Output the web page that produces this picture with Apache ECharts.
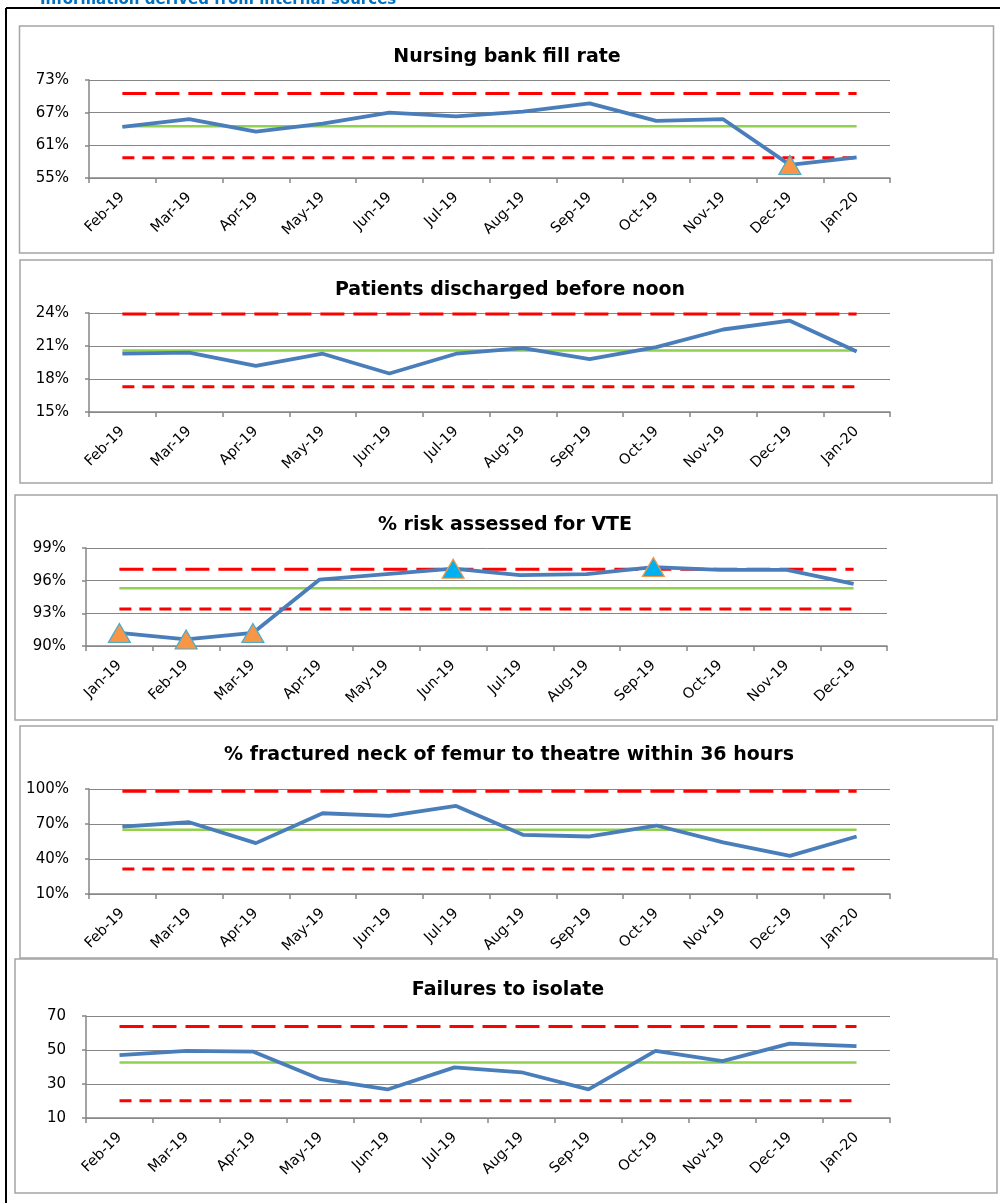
<!DOCTYPE html>
<html>
<head>
<meta charset="utf-8">
<title>Ward quality indicators</title>
<script src="https://cdn.jsdelivr.net/npm/echarts@6/dist/echarts.min.js"></script>
<style>
  html, body { margin: 0; padding: 0; background: #ffffff; }
  #chart { width: 1000px; height: 1203px; }
</style>
</head>
<body>
<div id="chart"></div>
<script>
// ---- categories ----
const monthsFebToJan = ['Feb-19', 'Mar-19', 'Apr-19', 'May-19', 'Jun-19', 'Jul-19',
                        'Aug-19', 'Sep-19', 'Oct-19', 'Nov-19', 'Dec-19', 'Jan-20'];
const monthsJanToDec = ['Jan-19', 'Feb-19', 'Mar-19', 'Apr-19', 'May-19', 'Jun-19',
                        'Jul-19', 'Aug-19', 'Sep-19', 'Oct-19', 'Nov-19', 'Dec-19'];

// ---- monthly values and control limits [upper, mean, lower] ----
const fillRate        = [64.4, 65.8, 63.5, 65.0, 67.0, 66.3, 67.2, 68.7, 65.5, 65.8, 57.4, 58.8];
const fillRateLimits  = [70.5, 64.5, 58.7];

const dischargedNoon   = [20.3, 20.4, 19.2, 20.3, 18.5, 20.3, 20.8, 19.8, 20.9, 22.5, 23.3, 20.5];
const dischargedLimits = [23.9, 20.6, 17.3];

const vteAssessed = [91.2, 90.6, 91.2, 96.1, 96.6, 97.1, 96.5, 96.6, 97.25, 97.0, 97.0, 95.7];
const vteLimits   = [97.05, 95.3, 93.4];

const femurTheatre = [67.8, 71.5, 53.6, 79.2, 76.9, 85.5, 60.7, 59.3, 68.7, 54.2, 42.7, 59.3];
const femurLimits  = [98.0, 65.0, 31.4];

const isolateFailures = [47.0, 49.5, 49.0, 32.8, 26.8, 39.8, 36.9, 26.8, 49.5, 43.5, 53.8, 52.3];
const isolateLimits   = [63.8, 42.7, 20.1];

// ---- value axis ticks [min, max, interval] ----
const fillRateTicks   = [55, 73, 6];
const dischargedTicks = [15, 24, 3];
const vteTicks        = [90, 99, 3];
const femurTicks      = [10, 100, 30];
const isolateTicks    = [10, 70, 20];

// ---- titles ----
const titles = [
  'Nursing bank fill rate',
  'Patients discharged before noon',
  '% risk assessed for VTE',
  '% fractured neck of femur to theatre within 36 hours',
  'Failures to isolate'
];

// ---- panel layout: frame box, plot grid, title centre ----
const layout = [
  { frame: [19.5, 26, 974, 227],  grid: [89, 80, 801, 98],   titleAt: [507, 57] },
  { frame: [20, 260, 972, 223],   grid: [89, 313, 801, 99],  titleAt: [510, 290.5] },
  { frame: [15, 495, 982, 225],   grid: [86, 548, 801, 98],  titleAt: [505, 525.5] },
  { frame: [20, 726, 973, 232],   grid: [89, 789, 801, 105], titleAt: [509, 755] },
  { frame: [15, 959, 982, 234],   grid: [86, 1016, 804, 102], titleAt: [508, 990] }
];

const panels = [
  { cats: monthsFebToJan, values: fillRate,        limits: fillRateLimits,   ticks: fillRateTicks,   pct: true },
  { cats: monthsFebToJan, values: dischargedNoon,  limits: dischargedLimits, ticks: dischargedTicks, pct: true },
  { cats: monthsJanToDec, values: vteAssessed,     limits: vteLimits,        ticks: vteTicks,        pct: true },
  { cats: monthsFebToJan, values: femurTheatre,    limits: femurLimits,      ticks: femurTicks,      pct: true },
  { cats: monthsFebToJan, values: isolateFailures, limits: isolateLimits,    ticks: isolateTicks,    pct: false }
];

const FONT = 'DejaVu Sans';
const AXIS_GREY = '#868686';
const LINE_BLUE = '#4A7EBB';
const MEAN_GREEN = '#92D050';
const LIMIT_RED = '#FF0000';

// Points outside the control limits get a triangle marker
function markedPoint(v, upper, lower) {
  if (v < lower) {
    return { value: v, symbol: 'triangle', symbolSize: [22, 19],
             itemStyle: { color: '#F79646', borderColor: '#4BACC6', borderWidth: 1.2 } };
  }
  if (v > upper) {
    return { value: v, symbol: 'triangle', symbolSize: [22, 19],
             itemStyle: { color: '#00B0F0', borderColor: '#F79646', borderWidth: 1.2 } };
  }
  return { value: v };
}

const grid = [], xAxis = [], yAxis = [], series = [], graphic = [];

// outer black frame (top and left edges)
graphic.push({ type: 'line', silent: true, shape: { x1: 6, y1: 8, x2: 1000, y2: 8 },
               style: { stroke: '#000', lineWidth: 2 } });
graphic.push({ type: 'line', silent: true, shape: { x1: 6, y1: 8, x2: 6, y2: 1203 },
               style: { stroke: '#000', lineWidth: 2 } });
// source note, clipped by the page top
graphic.push({ type: 'text', silent: true, x: 40, y: 8,
               style: { text: 'Information derived from internal sources', fill: '#0070C0',
                        font: 'bold 15px "DejaVu Sans"', textAlign: 'left', textVerticalAlign: 'bottom' } });

panels.forEach((p, i) => {
  const L = layout[i];
  const [upper, mean, lower] = p.limits;

  graphic.push({ type: 'rect', silent: true,
                 shape: { x: L.frame[0], y: L.frame[1], width: L.frame[2], height: L.frame[3] },
                 style: { fill: 'none', stroke: '#A5A5A5', lineWidth: 1.5 } });
  graphic.push({ type: 'text', silent: true, x: L.titleAt[0], y: L.titleAt[1],
                 style: { text: titles[i], fill: '#000', font: 'bold 19px "DejaVu Sans"',
                          textAlign: 'center', textVerticalAlign: 'middle' } });

  grid.push({ left: L.grid[0], top: L.grid[1], width: L.grid[2], height: L.grid[3],
              containLabel: false, outerBoundsMode: 'none' });

  xAxis.push({
    type: 'category', gridIndex: i, data: p.cats, boundaryGap: true,
    axisLine: { show: true, lineStyle: { color: AXIS_GREY, width: 1.5 } },
    axisTick: { show: true, length: 5, alignWithLabel: false, interval: 0,
                lineStyle: { color: AXIS_GREY, width: 1.5 } },
    axisLabel: { interval: 0, rotate: 45, margin: 17, fontSize: 14.5, fontFamily: FONT, color: '#000',
                 hideOverlap: false },
    splitLine: { show: false }
  });

  yAxis.push({
    type: 'value', gridIndex: i, min: p.ticks[0], max: p.ticks[1], interval: p.ticks[2],
    axisLine: { show: true, lineStyle: { color: AXIS_GREY, width: 1.5 } },
    axisTick: { show: true, length: 4, lineStyle: { color: AXIS_GREY, width: 1.5 } },
    axisLabel: { formatter: p.pct ? '{value}%' : '{value}', margin: 20, fontSize: 15,
                 fontFamily: FONT, color: '#000' },
    splitLine: { show: true, lineStyle: { color: AXIS_GREY, width: 1 } }
  });

  const flat = (val) => p.cats.map(() => val);
  const base = { type: 'line', xAxisIndex: i, yAxisIndex: i, symbol: 'none', silent: true,
                 animation: false };

  series.push(Object.assign({}, base, { name: 'Upper limit', data: flat(upper), z: 2,
    lineStyle: { color: LIMIT_RED, width: 3, type: [24, 9] } }));
  series.push(Object.assign({}, base, { name: 'Lower limit', data: flat(lower), z: 2,
    lineStyle: { color: LIMIT_RED, width: 3, type: [12, 8] } }));
  series.push(Object.assign({}, base, { name: 'Mean', data: flat(mean), z: 3,
    lineStyle: { color: MEAN_GREEN, width: 2.5 } }));
  series.push(Object.assign({}, base, { name: titles[i], z: 5, showSymbol: true,
    data: p.values.map(v => markedPoint(v, upper, lower)),
    itemStyle: { color: LINE_BLUE },
    lineStyle: { color: LINE_BLUE, width: 3.8 } }));
});

const chart = echarts.init(document.getElementById('chart'), null, { renderer: 'canvas' });
chart.setOption({
  animation: false,
  backgroundColor: '#ffffff',
  grid, xAxis, yAxis, series, graphic
});
</script>
</body>
</html>
